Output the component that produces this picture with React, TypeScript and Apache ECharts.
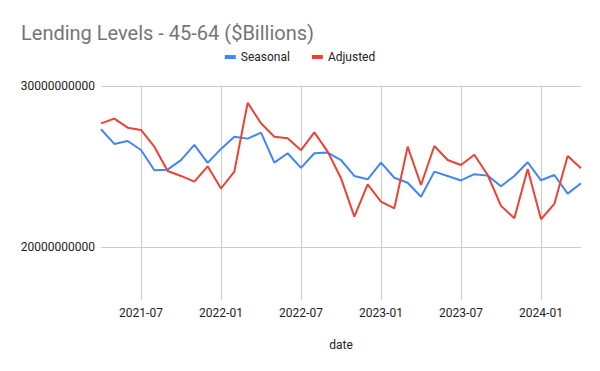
import React, { useEffect, useRef } from "react";
import * as echarts from "echarts";

const months: string[] = [
  "2021-04", "2021-05", "2021-06", "2021-07", "2021-08", "2021-09", "2021-10", "2021-11", "2021-12",
  "2022-01", "2022-02", "2022-03", "2022-04", "2022-05", "2022-06", "2022-07", "2022-08", "2022-09",
  "2022-10", "2022-11", "2022-12", "2023-01", "2023-02", "2023-03", "2023-04", "2023-05", "2023-06",
  "2023-07", "2023-08", "2023-09", "2023-10", "2023-11", "2023-12", "2024-01", "2024-02", "2024-03",
  "2024-04",
];

const seasonal: number[] = [
  27.31, 26.4, 26.58, 26.02, 24.76, 24.8, 25.39, 26.34, 25.22, 26.09, 26.85, 26.73, 27.1, 25.24,
  25.82, 24.91, 25.82, 25.86, 25.4, 24.41, 24.2, 25.24, 24.3, 23.99, 23.12, 24.68, 24.41, 24.13,
  24.52, 24.43, 23.77, 24.41, 25.26, 24.14, 24.47, 23.31, 23.96,
].map((v) => v * 1e9);

const adjusted: number[] = [
  27.68, 27.97, 27.41, 27.27, 26.23, 24.72, 24.41, 24.06, 25.01, 23.63, 24.68, 28.96, 27.68, 26.85,
  26.75, 26.01, 27.12, 25.92, 24.27, 21.88, 23.89, 22.81, 22.4, 26.23, 23.85, 26.27, 25.4, 25.09,
  25.73, 24.47, 22.55, 21.78, 24.84, 21.72, 22.67, 25.65, 24.89,
].map((v) => v * 1e9);

const yTicks: number[] = [20000000000, 30000000000];
const yMin = 16700000000;
const yMax = 30000000000;

const FONT = "Roboto, Arial, sans-serif";

export default function App() {
  const ref = useRef<HTMLDivElement>(null);
  useEffect(() => {
    if (!ref.current) return;
    const chart = echarts.init(ref.current, undefined, { renderer: "svg" });
    const showLabel = (_i: number, v: string) => v.endsWith("-01") || v.endsWith("-07");
    chart.setOption({
      animation: false,
      backgroundColor: "#ffffff",
      title: {
        text: "Lending Levels - 45-64 ($Billions)",
        left: 16,
        top: 18,
        textStyle: { fontFamily: FONT, fontSize: 20, fontWeight: "normal", color: "#757575" },
      },
      legend: {
        data: ["Seasonal", "Adjusted"],
        top: 46,
        left: "center",
        icon: "rect",
        itemWidth: 11,
        itemHeight: 4,
        itemGap: 22,
        textStyle: { fontFamily: FONT, fontSize: 12, color: "#222222" },
      },
      grid: { left: 101, right: 19, top: 86, bottom: 71 },
      xAxis: {
        type: "category",
        data: months,
        boundaryGap: false,
        name: "date",
        nameLocation: "middle",
        nameGap: 39,
        nameTextStyle: { fontFamily: FONT, fontSize: 12, color: "#222222" },
        axisLine: { show: false },
        axisTick: { show: false },
        axisLabel: {
          interval: showLabel,
          fontFamily: FONT,
          fontSize: 12,
          color: "#222222",
          margin: 7,
        },
        splitLine: { show: true, interval: showLabel, lineStyle: { color: "#cccccc", width: 1 } },
      },
      yAxis: {
        type: "value",
        min: yMin,
        max: yMax,
        axisLine: { show: false },
        axisTick: { show: false },
        axisLabel: { show: false },
        splitLine: { show: false },
      },
      series: [
        {
          name: "grid",
          type: "line",
          data: [],
          z: 1,
          silent: true,
          markLine: {
            silent: true,
            symbol: "none",
            animation: false,
            lineStyle: { color: "#cccccc", width: 1, type: "solid" },
            label: {
              position: "start",
              distance: 6,
              formatter: (p: any) => String(p.value),
              fontFamily: FONT,
              fontSize: 12,
              color: "#222222",
            },
            data: yTicks.map((t) => ({ yAxis: t })),
          },
        },
        {
          name: "Seasonal",
          type: "line",
          data: seasonal,
          symbol: "none",
          z: 3,
          lineStyle: { color: "#4285F4", width: 2 },
          itemStyle: { color: "#4285F4" },
        },
        {
          name: "Adjusted",
          type: "line",
          data: adjusted,
          symbol: "none",
          z: 4,
          lineStyle: { color: "#EA4335", width: 2 },
          itemStyle: { color: "#EA4335" },
        },
      ],
    });
    return () => chart.dispose();
  }, []);
  return <div ref={ref} style={{ width: 600, height: 371, position: "absolute", left: 0, top: 0 }} />;
}
